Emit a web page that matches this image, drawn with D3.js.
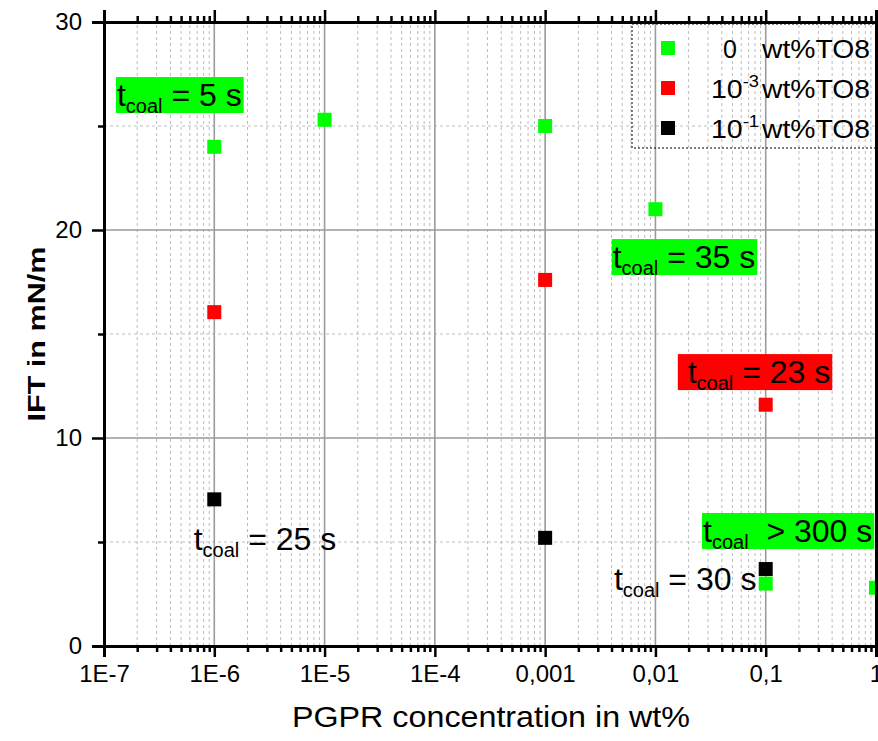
<!DOCTYPE html>
<html>
<head>
<meta charset="utf-8">
<script src="https://d3js.org/d3.v7.min.js"></script>
<style>
  body { margin: 0; background: #fff; }
  text { font-family: "Liberation Sans", Arial, sans-serif; white-space: pre; }
</style>
</head>
<body>
<div id="chartDiv"></div>
<script>
// PGPR concentration (wt%) for each series
var greenX = [1e-6, 1e-5, 1e-3, 1e-2, 1e-1, 1];
var greenY = [24.0, 25.3, 25.0, 21.0, 3.0, 2.8];
var redX = [1e-6, 1e-3, 1e-1];
var redY = [16.05, 17.6, 11.6];
var blackX = [1e-6, 1e-3, 1e-1];
var blackY = [7.05, 5.2, 3.7];

var seriesNames = ["0", "10", "10"];
var seriesSup = ["", "-3", "-1"];
var seriesColors = ["#00ff00", "#ff0000", "#000000"];

var xTicks = [1e-7, 1e-6, 1e-5, 1e-4, 1e-3, 1e-2, 1e-1, 1];
var xTickLabels = ["1E-7", "1E-6", "1E-5", "1E-4", "0,001", "0,01", "0,1", "1"];
var yTicks = [0, 10, 20, 30];
var yMinor = [5, 15, 25];

// coalescence time notes (anchored in data space)
var noteText = ["= 5 s", "= 35 s", "= 23 s", " > 300 s", "= 30 s", "= 25 s"];
var noteLead = ["", "", " ", "", "", ""];
var noteX = [1.31e-7, 4.1e-3, 1.63e-2, 2.7e-2, 4.2e-3, 6.5e-7];
var noteY = [25.96, 18.17, 12.64, 5.0, 2.69, 4.62];
var noteFill = ["#00ff00", "#00ff00", "#ff0000", "#00ff00", null, null];

var W = 878, H = 741;
var margin = {top: 22, right: 2, bottom: 95, left: 104};

var svg = d3.select("#chartDiv").append("svg")
    .attr("width", W)
    .attr("height", H);

var x_scale = d3.scaleLog()
    .domain([1e-7, 1])
    .range([margin.left, W - margin.right]);

var y_scale = d3.scaleLinear()
    .domain([0, 30])
    .range([H - margin.bottom, margin.top]);

var x0 = x_scale.range()[0], x1 = x_scale.range()[1];
var y0 = y_scale.range()[0], y1 = y_scale.range()[1];

// minor x positions 2..9 in each decade
var xMinor = [];
for (var d = 0; d < xTicks.length - 1; d++) {
  for (var k = 2; k <= 9; k++) xMinor.push(xTicks[d] * k);
}

svg.append("clipPath").attr("id", "plotClip")
  .append("rect")
    .attr("x", x0).attr("y", y1)
    .attr("width", x1 - x0).attr("height", y0 - y1);

// grid
var grid = svg.append("g").attr("class", "grid");
grid.selectAll(".vminor").data(xMinor).enter().append("line")
    .attr("x1", function(d){ return x_scale(d); })
    .attr("x2", function(d){ return x_scale(d); })
    .attr("y1", y0).attr("y2", y1)
    .style("stroke", "#bdbdbd").style("stroke-width", 1)
    .style("stroke-dasharray", "3,3");
grid.selectAll(".hminor").data(yMinor).enter().append("line")
    .attr("x1", x0).attr("x2", x1)
    .attr("y1", function(d){ return y_scale(d); })
    .attr("y2", function(d){ return y_scale(d); })
    .style("stroke", "#bdbdbd").style("stroke-width", 1)
    .style("stroke-dasharray", "3,3");
grid.selectAll(".vmajor").data(xTicks.slice(1, -1)).enter().append("line")
    .attr("x1", function(d){ return x_scale(d); })
    .attr("x2", function(d){ return x_scale(d); })
    .attr("y1", y0).attr("y2", y1)
    .style("stroke", "#9a9a9a").style("stroke-width", 1.6);
grid.selectAll(".hmajor").data([10, 20]).enter().append("line")
    .attr("x1", x0).attr("x2", x1)
    .attr("y1", function(d){ return y_scale(d); })
    .attr("y2", function(d){ return y_scale(d); })
    .style("stroke", "#9a9a9a").style("stroke-width", 1.6);

// notes with coloured boxes
var notes = svg.append("g").attr("class", "notes");
noteText.forEach(function(t, i) {
  var g = notes.append("g");
  var bx = x_scale(noteX[i]), by = y_scale(noteY[i]);
  var box = g.append("rect");
  var txt = g.append("text")
      .attr("x", bx).attr("y", by)
      .style("font-size", "32px").style("fill", "#000");
  txt.append("tspan").text(noteLead[i] + "t");
  txt.append("tspan").attr("dy", 7).style("font-size", "20px").text("coal");
  txt.append("tspan").attr("dy", -7).text(" " + t);
  var len = txt.node().getComputedTextLength();
  if (noteFill[i]) {
    box.attr("x", bx - 1).attr("y", by - 29)
       .attr("width", len + 3).attr("height", 36)
       .style("fill", noteFill[i]);
  } else {
    box.remove();
  }
});

// points
var pts = svg.append("g").attr("clip-path", "url(#plotClip)");
var seriesX = [greenX, redX, blackX];
var seriesY = [greenY, redY, blackY];
var sq = 14;
seriesX.forEach(function(xs, s) {
  pts.selectAll(".pt" + s).data(xs).enter().append("rect")
      .attr("x", function(d){ return x_scale(d) - sq / 2; })
      .attr("y", function(d, i){ return y_scale(seriesY[s][i]) - sq / 2; })
      .attr("width", sq).attr("height", sq)
      .style("fill", seriesColors[s]);
});

// axes
var axisBottom = d3.axisBottom(x_scale).tickValues(xTicks)
    .tickFormat(function(d, i){ return xTickLabels[i]; })
    .tickSize(11).tickPadding(8);
var gB = svg.append("g").attr("transform", "translate(0," + y0 + ")").call(axisBottom);
var gBm = svg.append("g").attr("transform", "translate(0," + y0 + ")")
    .call(d3.axisBottom(x_scale).tickValues(xMinor).tickFormat("").tickSize(6));

var gT = svg.append("g").attr("transform", "translate(0," + y1 + ")")
    .call(d3.axisTop(x_scale).tickValues(xTicks).tickFormat("").tickSize(12));
var gTm = svg.append("g").attr("transform", "translate(0," + y1 + ")")
    .call(d3.axisTop(x_scale).tickValues(xMinor).tickFormat("").tickSize(6));

var gL = svg.append("g").attr("transform", "translate(" + x0 + ",0)")
    .call(d3.axisLeft(y_scale).tickValues(yTicks).tickSize(12).tickPadding(10));
var gLm = svg.append("g").attr("transform", "translate(" + x0 + ",0)")
    .call(d3.axisLeft(y_scale).tickValues(yMinor).tickFormat("").tickSize(6));

var gR = svg.append("g").attr("transform", "translate(" + x1 + ",0)")
    .call(d3.axisRight(y_scale).tickValues([]).tickSize(0));

[gB, gBm, gT, gTm, gL, gLm, gR].forEach(function(g) {
  g.selectAll(".domain").style("stroke", "#000").style("stroke-width", 3);
  g.selectAll(".tick line").style("stroke", "#000").style("stroke-width", 2.5);
  g.selectAll("text").style("font-family", "'Liberation Sans', Arial, sans-serif")
      .style("font-size", "24px").style("fill", "#000");
});
[gBm, gTm, gLm].forEach(function(g){ g.select(".domain").remove(); });

// axis titles
svg.append("text")
    .attr("x", 292).attr("y", 727)
    .attr("textLength", 398).attr("lengthAdjust", "spacingAndGlyphs")
    .style("font-size", "30px")
    .text("PGPR concentration in wt%");

svg.append("text")
    .attr("transform", "translate(45," + ((y0 + y1) / 2) + ") rotate(-90)")
    .attr("text-anchor", "middle")
    .attr("textLength", 175).attr("lengthAdjust", "spacingAndGlyphs")
    .style("font-size", "24px").style("font-weight", "bold")
    .text("IFT in mN/m");

// legend
var legend = svg.append("g").attr("class", "legend");
legend.append("rect")
    .attr("x", 632).attr("y", 24).attr("width", 260).attr("height", 124)
    .style("fill", "none").style("stroke", "#000").style("stroke-width", 1)
    .style("stroke-dasharray", "2,2");
var rowY = [48, 88, 128];
seriesNames.forEach(function(n, i) {
  legend.append("rect")
      .attr("x", 668 - 7).attr("y", rowY[i] - 7)
      .attr("width", 14).attr("height", 14)
      .style("fill", seriesColors[i]);
  var base = rowY[i] + 10;
  if (seriesSup[i]) {
    var t = legend.append("text").attr("x", 711).attr("y", base)
        .attr("textLength", 48).attr("lengthAdjust", "spacingAndGlyphs")
        .style("font-size", "25px");
    t.append("tspan").text(n);
    t.append("tspan").attr("dy", -11).style("font-size", "16px").text(seriesSup[i]);
  } else {
    legend.append("text").attr("x", 723).attr("y", base)
        .style("font-size", "25px").text(n);
  }
  legend.append("text").attr("x", 762).attr("y", base)
      .attr("textLength", 108).attr("lengthAdjust", "spacingAndGlyphs")
      .style("font-size", "25px").text("wt%TO8");
});
</script>
</body>
</html>
